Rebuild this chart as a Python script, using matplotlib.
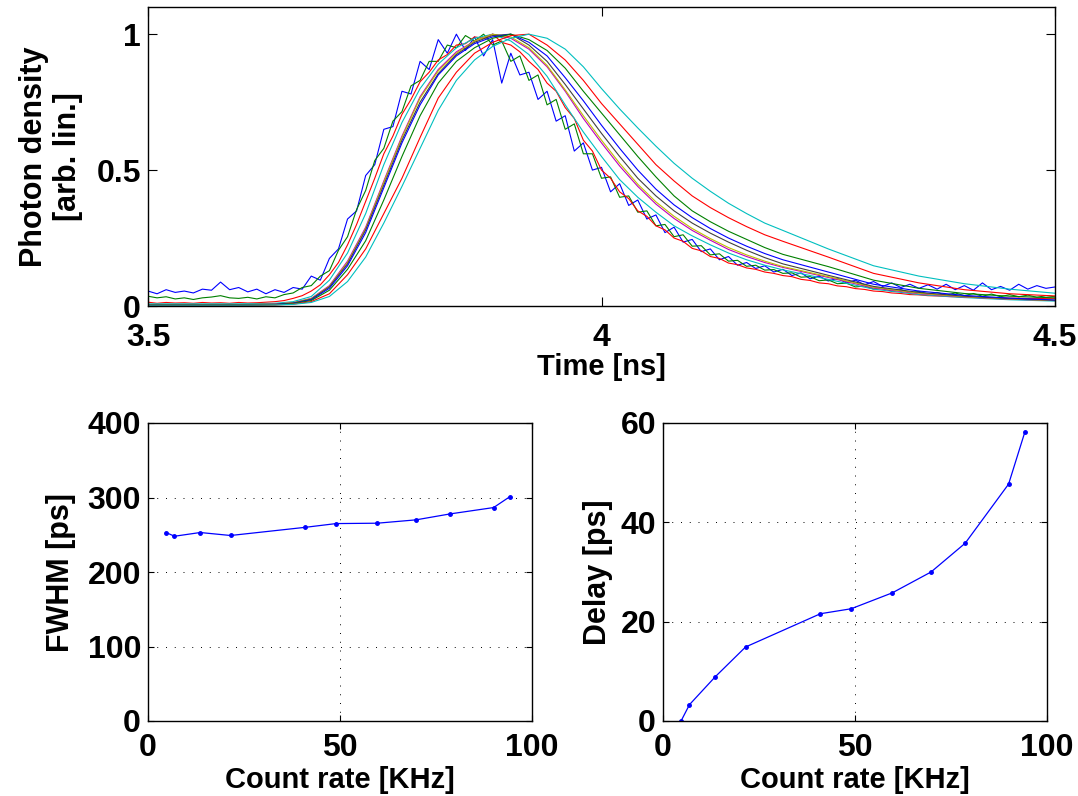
import numpy as np
import matplotlib
matplotlib.use('Agg')
import matplotlib.pyplot as plt

plt.rcParams['font.family'] = ['Liberation Sans', 'DejaVu Sans']
plt.rcParams['font.weight'] = 'bold'

# time samples of the three noisy (low count rate) traces
t_fine = np.round(np.linspace(3.5, 4.5, 101), 2)

blue1 = [.055, .045, .060, .050, .055, .048, .062, .058, .088, .060,
         .068, .052, .062, .045, .060, .050, .068, .062, .110, .095,
         .175, .210, .320, .350, .480, .520, .650, .660, .790, .780,
         .900, .870, .980, .930, 1.00, .940, .990, .920, .980, .820,
         .930, .850, .860, .760, .790, .680, .700, .570, .600, .500,
         .510, .420, .450, .370, .390, .320, .335, .270, .290, .235,
         .245, .200, .210, .170, .182, .150, .160, .138, .148, .125,
         .135, .112, .122, .100, .110, .092, .102, .085, .095, .078,
         .090, .072, .085, .068, .080, .065, .078, .062, .080, .060,
         .075, .058, .085, .060, .072, .058, .080, .062, .075, .065,
         .070]
green1 = [.036, .030, .034, .026, .030, .024, .030, .033, .038, .030,
          .028, .032, .026, .034, .030, .042, .048, .068, .075, .110,
          .130, .205, .255, .355, .425, .535, .580, .680, .715, .810,
          .830, .900, .900, .960, .950, .995, .975, 1.00, .960, .975,
          .900, .920, .830, .850, .740, .760, .650, .670, .560, .560,
          .470, .475, .400, .405, .345, .350, .295, .300, .255, .262,
          .220, .222, .188, .192, .165, .168, .146, .150, .132, .134,
          .120, .122, .106, .108, .093, .096, .082, .084, .070, .074,
          .062, .066, .054, .060, .048, .054, .044, .050, .040, .048,
          .038, .046, .036, .044, .034, .042, .034, .040, .032, .038,
          .034]
red1 = [.014, .010, .013, .011, .012, .010, .013, .011, .012, .010,
        .013, .011, .012, .014, .016, .020, .028, .038, .055, .078,
        .115, .160, .225, .300, .385, .470, .560, .625, .705, .760,
        .825, .860, .905, .925, .960, .965, .990, .985, 1.00, .970,
        .960, .935, .900, .870, .820, .790, .730, .690, .610, .570,
        .500, .470, .420, .395, .350, .330, .295, .280, .250, .238,
        .212, .203, .182, .175, .158, .152, .140, .135, .125, .120,
        .112, .108, .098, .094, .085, .082, .074, .071, .064, .061,
        .055, .053, .048, .046, .042, .041, .038, .037, .035, .034,
        .032, .032, .031, .030, .030, .029, .029, .028, .028, .027,
        .027]

# time samples of the smoother (higher count rate) traces
t_coarse = [3.50, 3.55, 3.60, 3.64, 3.66, 3.68, 3.70, 3.72, 3.74, 3.76,
            3.78, 3.80, 3.82, 3.84, 3.86, 3.88, 3.90, 3.92, 3.94, 3.96,
            3.98, 4.00, 4.02, 4.04, 4.06, 4.08, 4.10, 4.12, 4.14, 4.16,
            4.18, 4.20, 4.25, 4.30, 4.35, 4.40, 4.45, 4.50]

cyan1 = [.008, .008, .008, .010, .016, .035, .095, .195, .34, .52,
         .675, .80, .89, .95, .985, 1.0, .975, .925, .845, .74,
         .64, .55, .465, .40, .345, .295, .258, .225, .195, .17,
         .15, .133, .098, .062, .042, .031, .023, .018]
magenta = [.005, .005, .005, .007, .012, .028, .075, .165, .29, .46,
           .625, .77, .87, .935, .975, 1.0, .985, .945, .88, .79,
           .69, .60, .515, .44, .375, .322, .278, .242, .208, .182,
           .16, .142, .105, .066, .045, .033, .025, .02]
yellow = [.005, .005, .005, .007, .012, .027, .072, .16, .285, .455,
          .62, .765, .865, .93, .975, 1.0, .99, .95, .885, .795,
          .70, .61, .525, .448, .383, .33, .285, .248, .215, .188,
          .165, .145, .108, .069, .047, .034, .026, .02]
grey = [.004, .004, .004, .006, .011, .025, .07, .155, .28, .445,
        .61, .75, .855, .925, .97, .995, 1.0, .96, .90, .815,
        .725, .635, .55, .47, .405, .35, .305, .268, .235, .205,
        .178, .155, .113, .072, .05, .036, .027, .021]
blue2 = [.004, .004, .004, .006, .010, .023, .065, .148, .27, .435,
         .60, .74, .85, .92, .965, .99, 1.0, .97, .92, .84,
         .755, .665, .58, .50, .43, .372, .325, .285, .25, .22,
         .193, .17, .125, .08, .055, .039, .029, .022]
green2 = [.004, .004, .004, .005, .009, .02, .058, .135, .24, .39,
          .55, .70, .82, .90, .95, .985, 1.0, .98, .94, .875,
          .79, .71, .63, .55, .475, .405, .35, .31, .275, .245,
          .215, .19, .145, .095, .065, .046, .036, .03]
red2 = [.003, .003, .003, .004, .007, .016, .045, .115, .21, .34,
        .47, .62, .765, .86, .93, .97, .995, 1.0, .96, .905,
        .83, .745, .67, .595, .52, .46, .405, .362, .325, .292,
        .262, .238, .18, .12, .085, .06, .045, .037]
cyan2 = [.003, .003, .003, .004, .006, .013, .035, .09, .18, .305,
         .44, .58, .72, .83, .905, .955, .985, 1.0, .985, .945,
         .88, .80, .725, .655, .588, .525, .47, .422, .378, .34,
         .305, .278, .21, .148, .11, .082, .062, .047]

# summary values vs count rate
count_rate = [4.7, 6.9, 13.6, 21.5, 41.0, 49.0, 59.7, 69.8, 78.7, 90.0, 94.2]
fwhm = [253, 248, 253, 249, 260, 265, 265.5, 270, 278, 286.5, 301]
delay = [0, 3.3, 8.9, 14.9, 21.6, 22.6, 25.8, 30.0, 35.8, 47.7, 58.1]

c_blue = (0, 0, 1)
c_green = (0, 0.5, 0)
c_red = (1, 0, 0)
c_cyan = (0, 0.75, 0.75)
c_mag = (0.75, 0, 0.75)
c_yel = (0.75, 0.75, 0)
c_grey = (0.25, 0.25, 0.25)

W, H = 1078, 796
fig = plt.figure(figsize=(W / 100, H / 100), dpi=100)

def box(l, r, t, b):
    return [l / W, 1 - b / H, (r - l) / W, (b - t) / H]

tick_fs = 23
lab_fs = 21

# top: normalised pulses
ax = fig.add_axes(box(148, 1055, 7, 306))
fine = [(blue1, c_blue), (green1, c_green), (red1, c_red)]
coarse = [(cyan1, c_cyan), (magenta, c_mag), (yellow, c_yel), (grey, c_grey),
          (blue2, c_blue), (green2, c_green), (red2, c_red), (cyan2, c_cyan)]
for y, c in fine:
    ax.plot(t_fine, y, color=c, lw=0.8)
for y, c in coarse:
    ax.plot(t_coarse, y, color=c, lw=0.8)
ax.set_xlim(3.5, 4.5)
ax.set_ylim(0, 1.1)
ax.set_xticks([3.5, 4, 4.5])
ax.set_xticklabels(['3.5', '4', '4.5'])
ax.set_yticks([0, 0.5, 1])
ax.set_yticklabels(['0', '0.5', '1'], va='center_baseline')
ax.tick_params(direction='in', top=True, right=True, length=6.5, width=0.8,
               labelsize=tick_fs)
ax.tick_params(axis='x', pad=12)
ax.tick_params(axis='y', pad=5)
ax.set_xlabel('Time [ns]', fontsize=lab_fs, fontweight='bold', labelpad=0)
ax.set_ylabel('Photon density\n[arb. lin.]', fontsize=lab_fs + 1,
              fontweight='bold', labelpad=10, linespacing=1.15)

def small(ax, y, ylim, yticks):
    ax.plot(count_rate, y, color=c_blue, lw=0.9, marker='.', ms=5)
    ax.set_xlim(0, 100)
    ax.set_ylim(*ylim)
    ax.set_xticks([0, 50, 100])
    ax.set_yticks(yticks)
    ax.grid(True, color='k', lw=0.7, linestyle=(0, (1, 8)))
    ax.tick_params(direction='in', top=True, right=True, length=4, width=0.8,
                   labelsize=tick_fs)
    ax.tick_params(axis='x', pad=9)
    ax.tick_params(axis='y', pad=5)
    ax.set_xlabel('Count rate [KHz]', fontsize=lab_fs, fontweight='bold',
                  labelpad=2)

ax1 = fig.add_axes(box(148, 532, 423, 721))
small(ax1, fwhm, (0, 400), [0, 100, 200, 300, 400])
ax1.set_ylabel('FWHM [ps]', fontsize=lab_fs + 1, fontweight='bold', labelpad=8)

ax2 = fig.add_axes(box(663, 1047, 423, 721))
small(ax2, delay, (0, 60), [0, 20, 40, 60])
ax2.set_ylabel('Delay [ps]', fontsize=lab_fs + 1, fontweight='bold', labelpad=5)

for a in (ax, ax1, ax2):
    for s in a.spines.values():
        s.set_linewidth(1.0)

fig.savefig('out.png', dpi=100)
